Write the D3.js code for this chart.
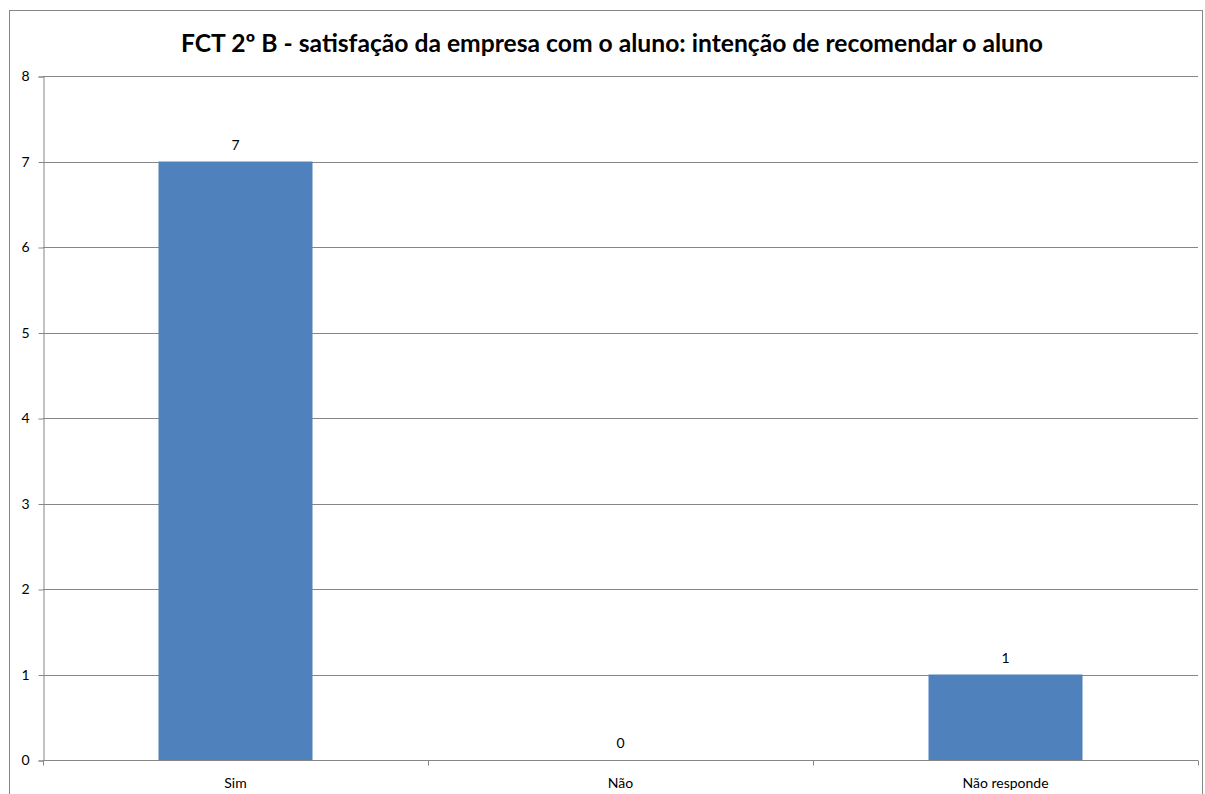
<!DOCTYPE html>
<html><head><meta charset="utf-8">
<script src="https://cdn.jsdelivr.net/npm/d3@7"></script>
<style>body{margin:0;background:#fff}svg{display:block}</style>
</head><body>
<svg id="c" width="1205" height="794"></svg>
<script>
const categories = ["Sim", "Não", "Não responde"];
const values = [7, 0, 1];
const yTicks = [0, 1, 2, 3, 4, 5, 6, 7, 8];
const title = "FCT 2º B - satisfação da empresa com o aluno: intenção de recomendar o aluno";

const svg = d3.select("#c");
const font = "Lato, 'Open Sans', sans-serif";
const L = 43, R = 1198, T = 76, B = 760;

svg.append("rect").attr("x", 9.5).attr("y", 10.5).attr("width", 1193).attr("height", 800)
  .attr("fill", "#fff").attr("stroke", "#868686");

const x = d3.scaleBand().domain(categories).range([L, R]).padding(0);
const y = d3.scaleLinear().domain([0, 8]).range([B, T]);

// grid
svg.append("g").selectAll("line").data(yTicks.filter(d => d > 0)).join("line")
  .attr("x1", L).attr("x2", R)
  .attr("y1", d => Math.round(y(d)) + 0.5).attr("y2", d => Math.round(y(d)) + 0.5)
  .attr("stroke", "#868686").attr("stroke-width", 1);

// bars
const bw = x.bandwidth() * 0.4;
svg.append("g").selectAll("rect").data(values).join("rect")
  .attr("x", (d, i) => x(categories[i]) + (x.bandwidth() - bw) / 2)
  .attr("width", bw)
  .attr("y", d => y(d)).attr("height", d => y(0) - y(d))
  .attr("fill", "#4F81BD");

// y axis
const ya = d3.axisLeft(y).tickValues(yTicks).tickSize(5).tickPadding(9).tickFormat(d3.format("d"));
const gy = svg.append("g").attr("transform", `translate(${L + 0.5},0.5)`).call(ya);
gy.selectAll("path,line").attr("stroke", "#868686");
gy.selectAll("text").attr("font-family", font).attr("font-size", 14).attr("fill", "#000");

// x axis
const gx = svg.append("g").attr("transform", `translate(0,${B + 0.5})`);
gx.append("line").attr("x1", L).attr("x2", R).attr("stroke", "#868686");
const bounds = [...categories.map(c => x(c)), R];
gx.selectAll("line.t").data(bounds).join("line").attr("class", "t")
  .attr("x1", d => Math.round(d) + 0.5).attr("x2", d => Math.round(d) + 0.5)
  .attr("y1", 0).attr("y2", 5).attr("stroke", "#868686");
gx.selectAll("text").data(categories).join("text")
  .attr("x", d => x(d) + x.bandwidth() / 2).attr("y", 27)
  .attr("text-anchor", "middle").attr("font-family", font).attr("font-size", 14).text(d => d);

// data labels
svg.append("g").selectAll("text").data(values).join("text")
  .attr("x", (d, i) => x(categories[i]) + x.bandwidth() / 2)
  .attr("y", d => y(d) - 12)
  .attr("text-anchor", "middle").attr("font-family", font).attr("font-size", 14).text(d => d);

svg.append("text").attr("x", 612).attr("y", 52).attr("text-anchor", "middle")
  .attr("font-family", font).attr("font-weight", "bold").attr("font-size", 24)
  .attr("textLength", 862).attr("lengthAdjust", "spacingAndGlyphs")
  .text(title);
</script>
</body></html>
